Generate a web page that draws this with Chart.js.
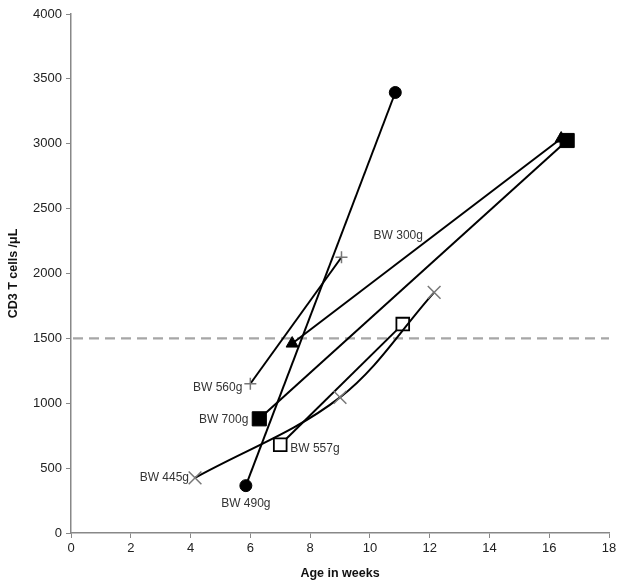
<!DOCTYPE html>
<html><head><meta charset="utf-8">
<script src="https://cdn.jsdelivr.net/npm/chart.js@4"></script>
<style>html,body{margin:0;padding:0;background:#fff}#wrap{width:624px;height:585px}</style>
</head><body><div id="wrap"><canvas id="c" width="624" height="585"></canvas></div>
<script>
// Data (age in weeks, CD3 T cells /µL)
const bw490 = [{x:5.85,y:365},{x:10.85,y:3395}];
const bw560 = [{x:6.0,y:1150},{x:9.05,y:2125}];
const bw300 = [{x:7.4,y:1460},{x:16.4,y:3040}];
const bw700 = [{x:6.3,y:880},{x:16.6,y:3025}];
const bw557 = [{x:7.0,y:680},{x:11.1,y:1610}];
const bw445 = [{x:4.15,y:425},{x:9.0,y:1045},{x:12.15,y:1855}];
const seriesNames = ['BW 490g','BW 560g','BW 300g','BW 700g','BW 557g','BW 445g'];
const xTicks = [0,2,4,6,8,10,12,14,16,18];
const yTicks = [0,500,1000,1500,2000,2500,3000,3500,4000];
const threshold = 1500;
// Label anchors (data coordinates) for each text label
const labelAnchors = [
  {t:'BW 490g', x:5.85, y:365},
  {t:'BW 560g', x:6.0, y:1150},
  {t:'BW 300g', x:10.95, y:2290},
  {t:'BW 700g', x:6.3, y:880},
  {t:'BW 557g', x:7.0, y:680},
  {t:'BW 445g', x:4.15, y:425}
];
const labelStyle = {
  'BW 490g':{dx:0,dy:18,align:'center'},
  'BW 560g':{dx:-8,dy:4,align:'right'},
  'BW 300g':{dx:0,dy:0,align:'center'},
  'BW 700g':{dx:-11,dy:1,align:'right'},
  'BW 557g':{dx:10,dy:4,align:'left'},
  'BW 445g':{dx:-6,dy:0,align:'right'}
};

const labelPlugin = {
  id:'labels',
  afterDatasetsDraw(chart){
    const {ctx, scales:{x,y}} = chart;
    ctx.save();
    ctx.font = '12px "Liberation Sans", Arial, sans-serif';
    ctx.fillStyle = '#333';
    ctx.textBaseline = 'middle';
    labelAnchors.forEach(l=>{
      const s = labelStyle[l.t];
      ctx.textAlign = s.align;
      ctx.fillText(l.t, x.getPixelForValue(l.x)+s.dx, y.getPixelForValue(l.y)+s.dy);
    });
    ctx.restore();
  },
  beforeDatasetsDraw(chart){
    const {ctx, chartArea, scales:{y}} = chart;
    const py = y.getPixelForValue(threshold);
    ctx.save();
    ctx.strokeStyle = '#a6a6a6';
    ctx.lineWidth = 2.2;
    ctx.setLineDash([10,6]);
    ctx.beginPath();
    ctx.moveTo(chartArea.left+2, py);
    ctx.lineTo(chartArea.right, py);
    ctx.stroke();
    ctx.restore();
  }
};

const mk = (name, data, style, opts) => Object.assign({
  label:name, data, showLine:true, borderColor:'#000', borderWidth:2,
  pointStyle:style, tension:0, pointHoverRadius:0
}, opts);

new Chart(document.getElementById('c'), {
  type:'scatter',
  data:{datasets:[
    mk(seriesNames[5], bw445, 'crossRot', {pointRadius:9, pointBorderColor:'#777', pointBorderWidth:1.5, tension:0.35}),
    mk(seriesNames[4], bw557, 'rect', {pointRadius:9, pointBackgroundColor:'#fff', pointBorderColor:'#000', pointBorderWidth:1.8}),
    mk(seriesNames[3], bw700, 'rect', {pointRadius:10, pointBackgroundColor:'#000', pointBorderColor:'#000', pointBorderWidth:1}),
    mk(seriesNames[2], bw300, 'triangle', {pointRadius:7, pointBackgroundColor:'#000', pointBorderColor:'#000', pointBorderWidth:1}),
    mk(seriesNames[1], bw560, 'cross', {pointRadius:6, pointBorderColor:'#777', pointBorderWidth:1.5}),
    mk(seriesNames[0], bw490, 'circle', {pointRadius:6, pointBackgroundColor:'#000', pointBorderColor:'#000', pointBorderWidth:1})
  ]},
  options:{
    responsive:false, animation:false, devicePixelRatio:1,
    layout:{padding:{left:0,right:15,top:14,bottom:0}},
    plugins:{legend:{display:false}, tooltip:{enabled:false}},
    scales:{
      x:{type:'linear', min:0, max:18,
        afterBuildTicks(s){ s.ticks = xTicks.map(v=>({value:v})); },
        grid:{drawOnChartArea:false, drawTicks:true, tickLength:5, color:'#888'},
        border:{color:'#888', width:1.5},
        ticks:{color:'#222', font:{size:13, family:'"Liberation Sans", Arial, sans-serif'}, padding:3, maxRotation:0, callback:v=>String(v)},
        title:{display:true, text:'Age in weeks', color:'#111', font:{size:12.5, weight:'bold', family:'"Liberation Sans", Arial, sans-serif'}, padding:{top:4,bottom:4}},
        afterFit(s){ s.height = 52; }
      },
      y:{type:'linear', min:0, max:4000,
        afterBuildTicks(s){ s.ticks = yTicks.map(v=>({value:v})); },
        grid:{drawOnChartArea:false, drawTicks:true, tickLength:5, color:'#888'},
        border:{color:'#888', width:1.5},
        ticks:{color:'#222', font:{size:13, family:'"Liberation Sans", Arial, sans-serif'}, padding:4, callback:v=>String(v)},
        title:{display:true, text:'CD3 T cells /μL', color:'#111', font:{size:12.5, weight:'bold', family:'"Liberation Sans", Arial, sans-serif'}, padding:{top:6,bottom:8}},
        afterFit(s){ s.width = 71; }
      }
    }
  },
  plugins:[labelPlugin]
});
</script></body></html>
